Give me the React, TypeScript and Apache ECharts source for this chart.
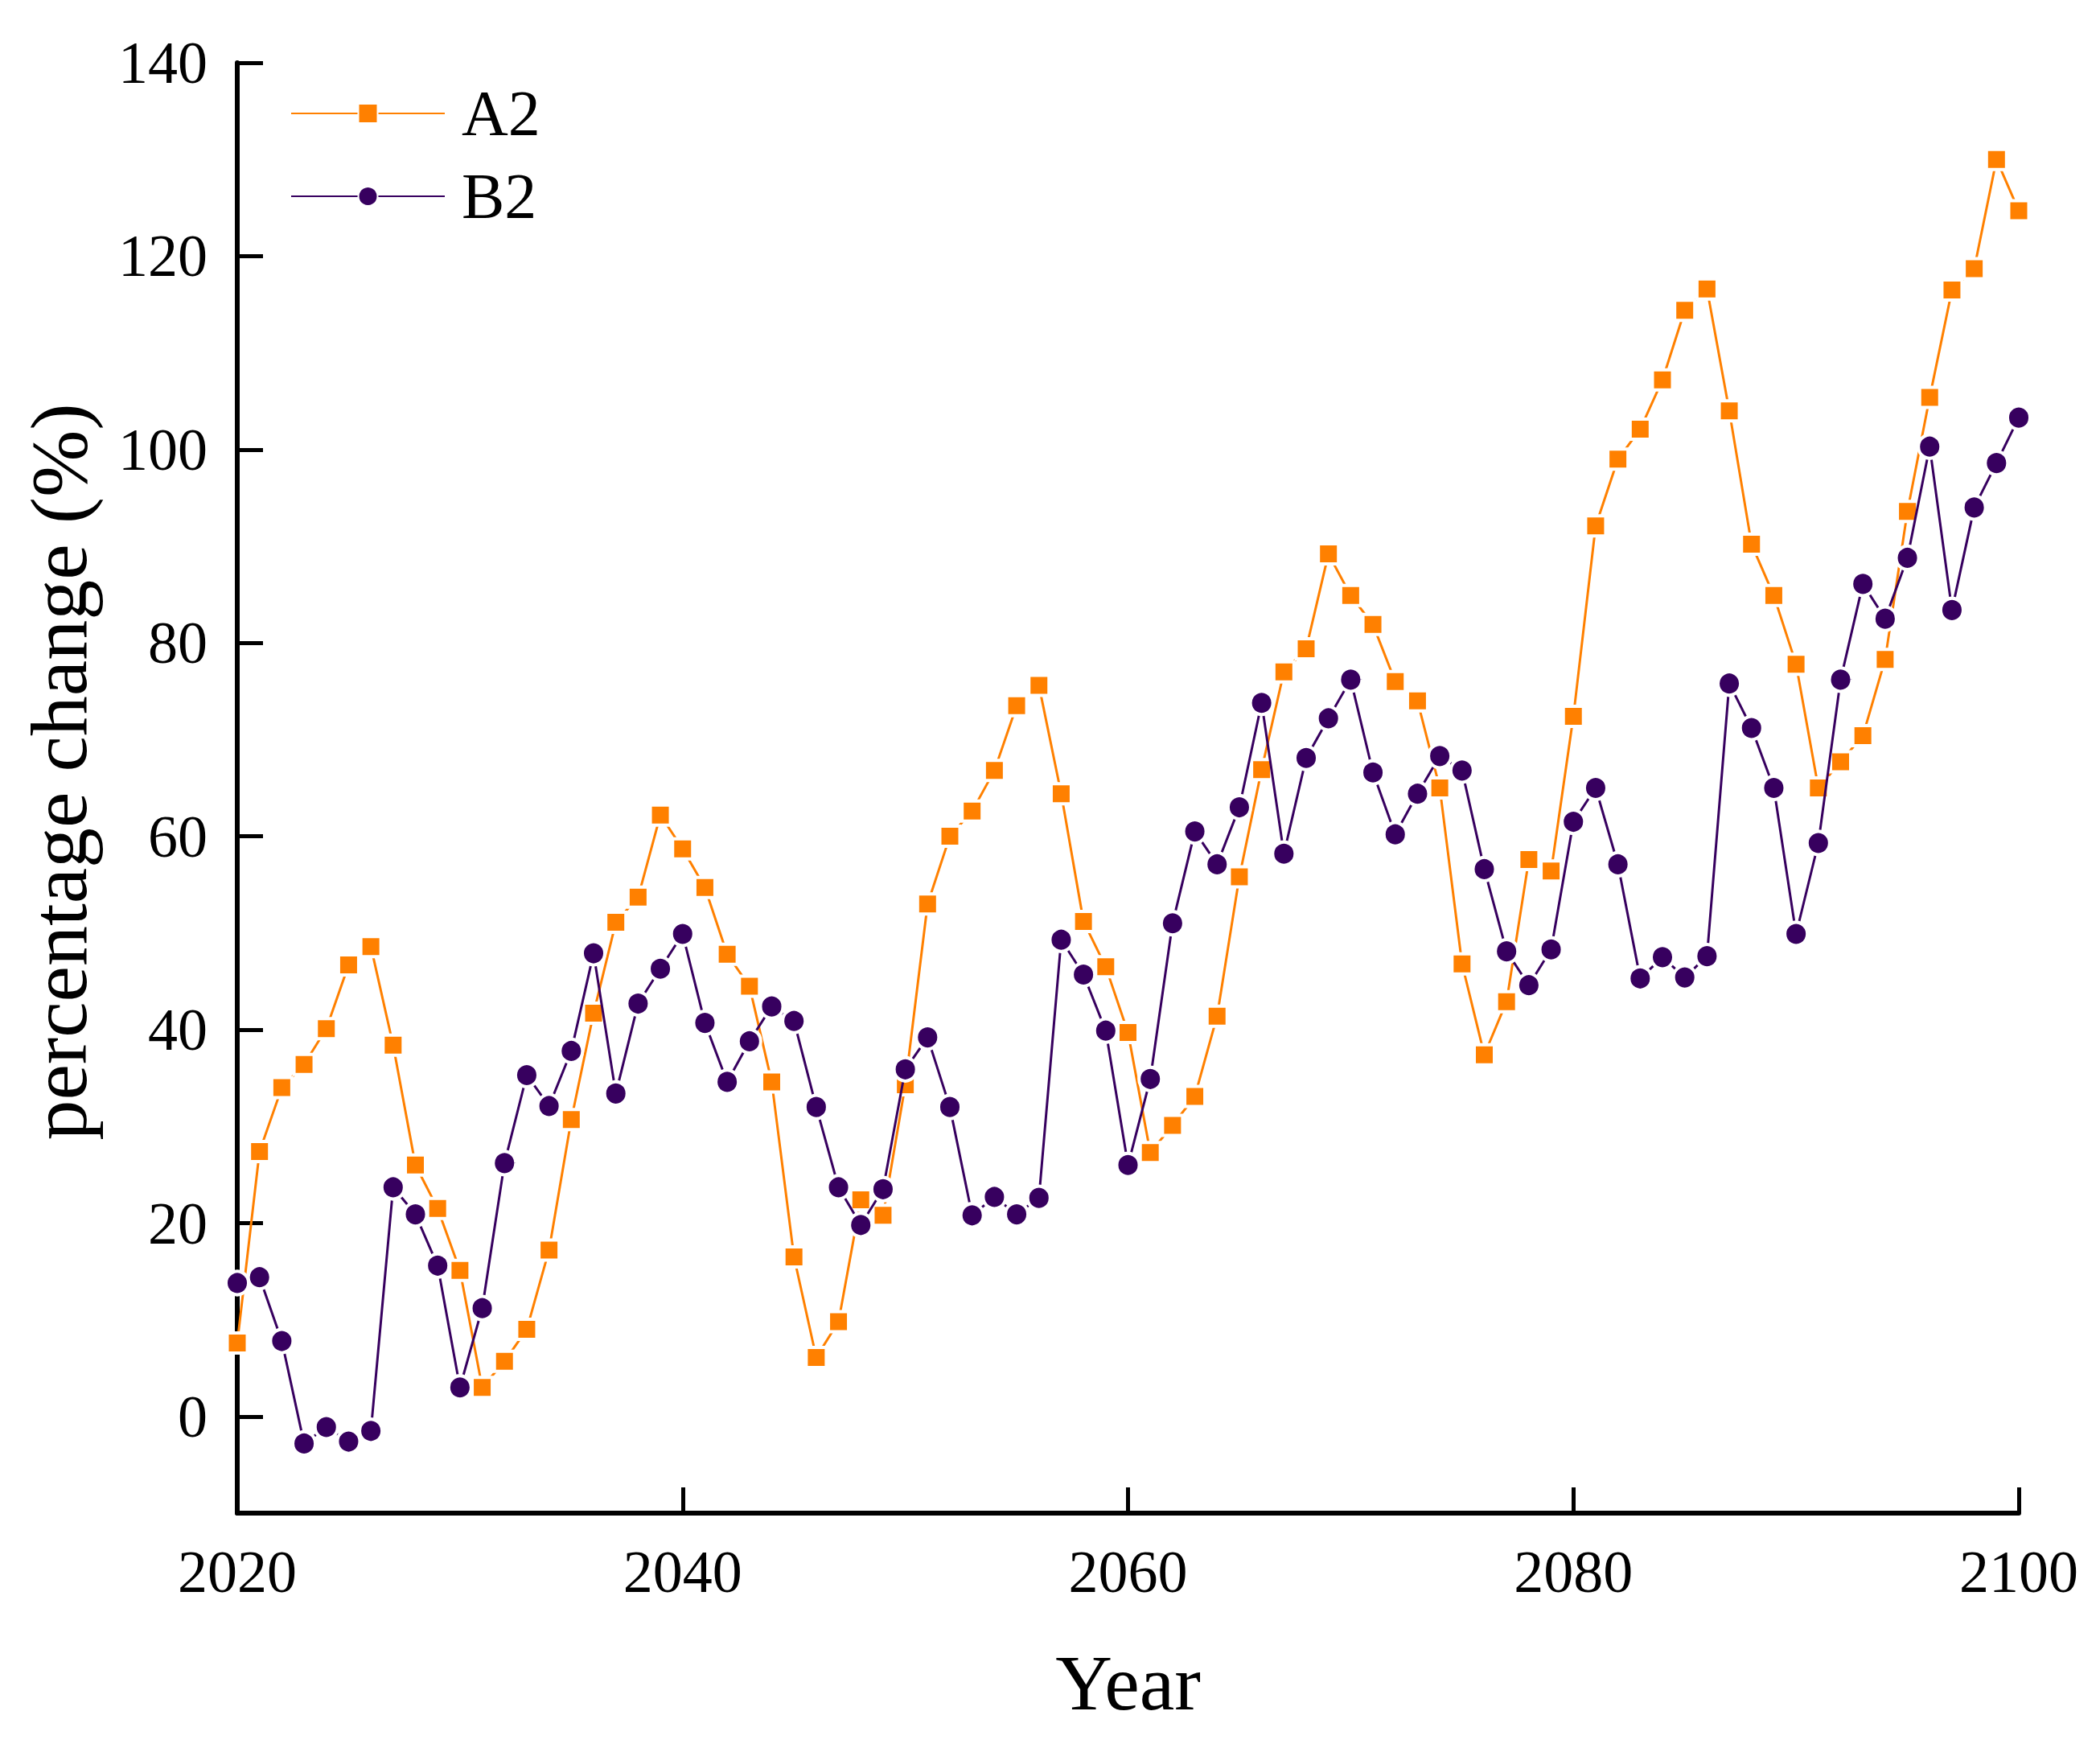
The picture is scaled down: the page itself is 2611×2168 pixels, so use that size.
import React, { useEffect, useRef } from "react";
import * as echarts from "echarts";

const years: number[] = Array.from({ length: 81 }, (_, i) => 2020 + i);

const a2Values: number[] = [
  7.6, 27.4, 34.0, 36.4, 40.1, 46.7, 48.6, 38.4, 26.0, 21.5,
  15.1, 3.0, 5.7, 9.0, 17.2, 30.7, 41.7, 51.1, 53.7, 62.2,
  58.7, 54.7, 47.8, 44.5, 34.6, 16.5, 6.1, 9.8, 22.4, 20.8,
  34.3, 53.0, 60.0, 62.6, 66.8, 73.5, 75.6, 64.4, 51.2, 46.5,
  39.7, 27.3, 30.1, 33.1, 41.4, 55.8, 66.9, 77.0, 79.4, 89.2,
  84.9, 81.9, 76.0, 74.0, 65.0, 46.8, 37.4, 42.9, 57.6, 56.4,
  72.4, 92.1, 99.0, 102.1, 107.2, 114.4, 116.6, 104.0, 90.2, 84.9,
  77.8, 65.0, 67.7, 70.4, 78.3, 93.6, 105.4, 116.5, 118.7, 130.0,
  124.7,
];

const b2Values: number[] = [
  13.8, 14.4, 7.8, -2.8, -1.1, -2.6, -1.5, 23.7, 20.9, 15.6,
  3.0, 11.2, 26.2, 35.3, 32.1, 37.8, 47.9, 33.4, 42.7, 46.3,
  49.9, 40.7, 34.6, 38.8, 42.4, 40.9, 32.0, 23.7, 19.8, 23.5,
  35.9, 39.2, 32.0, 20.8, 22.7, 20.9, 22.6, 49.3, 45.7, 39.9,
  26.0, 34.9, 51.0, 60.5, 57.1, 63.0, 73.8, 58.2, 68.1, 72.2,
  76.2, 66.6, 60.2, 64.4, 68.3, 66.8, 56.6, 48.1, 44.6, 48.3,
  61.5, 65.0, 57.1, 45.3, 47.5, 45.4, 47.6, 75.8, 71.2, 65.0,
  49.9, 59.3, 76.2, 86.1, 82.5, 88.8, 100.3, 83.4, 94.0, 98.6,
  103.3,
];

const seriesNames = ["A2", "B2"];
const xTicks = { min: 2020, max: 2100, interval: 20 };
const yTicks = { min: 0, max: 140, interval: 20 };
const yRange = { min: -10, max: 140 };

const FONT = "Liberation Serif";
const ORANGE = "#FF8000";
const PURPLE = "#37005F";

export default function App() {
  const ref = useRef<HTMLDivElement>(null);
  useEffect(() => {
    if (!ref.current) return;
    const chart = echarts.init(ref.current, null, { renderer: "svg" });
    const gridLeft = 295;
    const gridRight = 2611 - 2510;
    const gridTop = 78;
    const gridBottom = 2168 - 1881;
    const zeroBottom = 2168 - 1761;
    chart.setOption({
      animation: false,
      backgroundColor: "#ffffff",
      textStyle: { fontFamily: FONT, color: "#000" },
      legend: {
        data: seriesNames,
        orient: "vertical",
        left: 356,
        top: 96,
        itemWidth: 191,
        itemHeight: 30,
        itemGap: 23,
        textStyle: { fontFamily: FONT, fontSize: 80, color: "#000", lineHeight: 80, padding: [0, 0, 0, 16] },
      },
      grid: [
        { left: gridLeft, right: gridRight, top: gridTop, bottom: gridBottom, containLabel: false },
        { left: gridLeft, right: gridRight, top: gridTop, bottom: zeroBottom, containLabel: false },
      ],
      xAxis: [
        {
          type: "value",
          gridIndex: 0,
          min: xTicks.min,
          max: xTicks.max,
          interval: xTicks.interval,
          name: "Year",
          nameLocation: "middle",
          nameGap: 162,
          nameTextStyle: { fontFamily: FONT, fontSize: 98, color: "#000" },
          axisLine: { show: true, onZero: false, lineStyle: { color: "#000", width: 6 } },
          axisTick: { show: true, inside: true, length: 32, lineStyle: { color: "#000", width: 5 } },
          axisLabel: { fontFamily: FONT, fontSize: 74, color: "#000", margin: 36, formatter: (v: number) => String(v) },
          splitLine: { show: false },
        },
        {
          type: "value",
          gridIndex: 1,
          min: 0,
          max: 1,
          show: false,
        },
      ],
      yAxis: [
        {
          type: "value",
          gridIndex: 0,
          min: yRange.min,
          max: yRange.max,
          name: "percentage change (%)",
          nameLocation: "middle",
          nameGap: 172,
          nameTextStyle: { fontFamily: FONT, fontSize: 100, color: "#000", padding: [0, 0, 0, 40] },
          axisLine: { show: true, onZero: false, lineStyle: { color: "#000", width: 6 } },
          axisTick: { show: false },
          axisLabel: { show: false },
          splitLine: { show: false },
        },
        {
          type: "value",
          gridIndex: 1,
          min: yTicks.min,
          max: yTicks.max,
          interval: yTicks.interval,
          axisLine: { show: false },
          axisTick: { show: true, inside: true, length: 32, lineStyle: { color: "#000", width: 5 } },
          axisLabel: { fontFamily: FONT, fontSize: 74, color: "#000", margin: 37 },
          splitLine: { show: false },
        },
      ],
      series: [
        {
          name: seriesNames[0],
          type: "line",
          xAxisIndex: 0,
          yAxisIndex: 0,
          data: years.map((y, i) => [y, a2Values[i]]),
          symbol: "rect",
          symbolSize: [25, 25],
          color: ORANGE,
          lineStyle: { color: ORANGE, width: 3 },
          itemStyle: { color: ORANGE, borderColor: "#fff", borderWidth: 4 },
          z: 2,
        },
        {
          name: seriesNames[1],
          type: "line",
          xAxisIndex: 0,
          yAxisIndex: 0,
          data: years.map((y, i) => [y, b2Values[i]]),
          symbol: "circle",
          symbolSize: [28, 29],
          color: PURPLE,
          lineStyle: { color: PURPLE, width: 3 },
          itemStyle: { color: PURPLE, borderColor: "#fff", borderWidth: 4 },
          z: 3,
        },
      ],
    });
    return () => chart.dispose();
  }, []);
  return (
    <div
      ref={ref}
      style={{ position: "fixed", left: 0, top: 0, width: 2611, height: 2168, background: "#fff" }}
    />
  );
}
